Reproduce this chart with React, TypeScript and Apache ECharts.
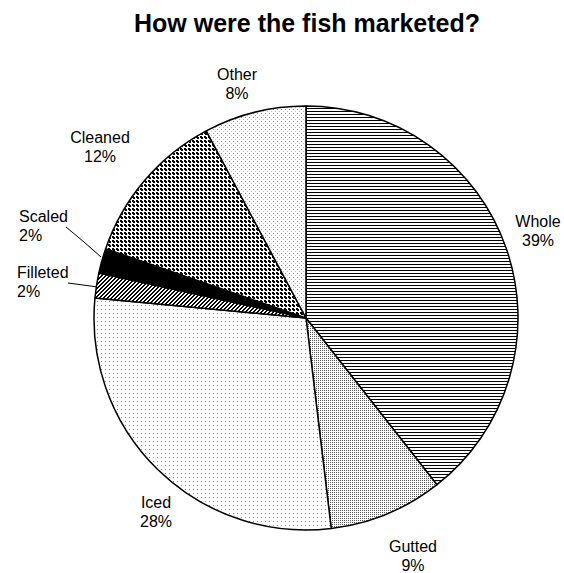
import React, { useEffect, useRef } from 'react';
import * as echarts from 'echarts';

const chartTitle = 'How were the fish marketed?';
const categories = ['Whole', 'Gutted', 'Iced', 'Filleted', 'Scaled', 'Cleaned', 'Other'];
// shares (labels show them rounded)
const percents = [39.4, 8.7, 28.4, 1.9, 1.9, 11.9, 7.8];

// label placement (layout only)
const labelPlacement: Record<string, { x: number; y: number; align: string; line?: number[][] }> = {
  Whole: { x: 538, y: 231, align: 'center' },
  Gutted: { x: 413, y: 556, align: 'center' },
  Iced: { x: 156, y: 512, align: 'center' },
  Filleted: { x: 17, y: 282, align: 'left', line: [[68, 283], [83, 285], [98, 287]] },
  Scaled: { x: 19, y: 226, align: 'left', line: [[66, 227], [84, 242], [101, 257]] },
  Cleaned: { x: 100, y: 147, align: 'center' },
  Other: { x: 237, y: 84, align: 'center' },
};

function makePattern(w: number, h: number, draw: (ctx: CanvasRenderingContext2D) => void) {
  const c = document.createElement('canvas');
  c.width = w;
  c.height = h;
  const ctx = c.getContext('2d')!;
  ctx.fillStyle = '#ffffff';
  ctx.fillRect(0, 0, w, h);
  draw(ctx);
  return { image: c.toDataURL(), repeat: 'repeat', imageWidth: w, imageHeight: h } as any;
}

function px(ctx: CanvasRenderingContext2D, x: number, y: number, color: string) {
  ctx.fillStyle = color;
  ctx.fillRect(x, y, 1, 1);
}

function buildPatterns() {
  const horiz = makePattern(4, 3, (ctx) => {
    ctx.fillStyle = '#000';
    ctx.fillRect(0, 0, 4, 1);
  });
  const mesh = makePattern(4, 4, (ctx) => {
    for (let x = 0; x < 4; x++)
      for (let y = 0; y < 4; y++)
        if ((x + y) % 2 === 0 && !(x % 2 === 1 && y % 2 === 1)) px(ctx, x, y, '#555');
  });
  const dotsIced = makePattern(4, 4, (ctx) => {
    px(ctx, 1, 1, '#888');
  });
  const dotsOther = makePattern(4, 4, (ctx) => {
    px(ctx, 1, 1, '#888');
    px(ctx, 3, 3, '#bbb');
  });
  const diag = makePattern(4, 4, (ctx) => {
    for (let x = 0; x < 4; x++)
      for (let y = 0; y < 4; y++) if ((x + y) % 4 === 0 || (x + y) % 4 === 1) px(ctx, x, y, '#000');
  });
  const cross = makePattern(4, 4, (ctx) => {
    const pts = [[1, 0], [0, 1], [1, 1], [2, 1], [1, 2], [0, 0], [2, 2]];
    pts.forEach(([x, y]) => px(ctx, x, y, '#000'));
  });
  return {
    Whole: horiz,
    Gutted: mesh,
    Iced: dotsIced,
    Filleted: diag,
    Scaled: '#000000',
    Cleaned: cross,
    Other: dotsOther,
  } as Record<string, any>;
}

export default function App() {
  const ref = useRef<HTMLDivElement>(null);
  useEffect(() => {
    if (!ref.current) return;
    const chart = echarts.init(ref.current, null, { renderer: 'svg' });
    const patterns = buildPatterns();
    const font = 'Arial, "Liberation Sans", Helvetica, sans-serif';
    chart.setOption({
      animation: false,
      backgroundColor: '#ffffff',
      title: {
        text: chartTitle,
        left: 302,
        top: 5,
        textAlign: 'center',
        textStyle: { fontFamily: font, fontSize: 25, fontWeight: 'bold', color: '#000' },
      },
      series: [
        {
          type: 'pie',
          center: [306, 318],
          radius: 212,
          startAngle: 90,
          clockwise: true,
          avoidLabelOverlap: false,
          itemStyle: { borderColor: '#000', borderWidth: 1.5 },
          emphasis: { disabled: true },
          label: {
            show: true,
            formatter: (p: any) => `${p.name}\n${Math.round(p.value)}%`,
            fontFamily: font,
            fontSize: 16,
            lineHeight: 19,
            color: '#000',
          },
          labelLine: { show: false, lineStyle: { color: '#000', width: 1 } },
          labelLayout: (params: any) => {
            const name = categories[params.dataIndex];
            const p = labelPlacement[name];
            const out: any = { x: p.x, y: p.y, align: p.align, verticalAlign: 'middle' };
            if (p.line) out.labelLinePoints = p.line;
            return out;
          },
          data: categories.map((name, i) => ({
            name,
            value: percents[i],
            itemStyle: { color: patterns[name] },
            labelLine: { show: !!labelPlacement[name].line, length: 10, length2: 10 },
          })),
        },
      ],
    });
    return () => chart.dispose();
  }, []);
  return (
    <div
      ref={ref}
      style={{ position: 'absolute', left: 0, top: 0, width: 564, height: 573, background: '#fff' }}
    />
  );
}
